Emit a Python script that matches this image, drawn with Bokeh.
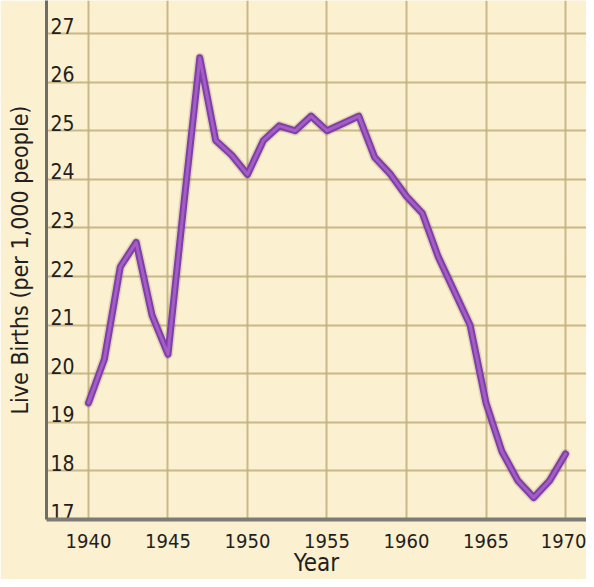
from bokeh.plotting import figure
from bokeh.models import FixedTicker, Range1d
from bokeh.core.properties import value
from bokeh.embed import file_html
from bokeh.resources import INLINE

years = list(range(1940, 1971))
births = [19.4, 20.3, 22.2, 22.7, 21.2, 20.4, 23.5, 26.5, 24.8, 24.5,
          24.1, 24.8, 25.1, 25.0, 25.3, 25.0, 25.15, 25.3, 24.45, 24.1,
          23.65, 23.3, 22.4, 21.7, 21.0, 19.4, 18.4, 17.8, 17.45, 17.8, 18.35]
x_ticks = [1940, 1945, 1950, 1955, 1960, 1965, 1970]
y_ticks = [17, 18, 19, 20, 21, 22, 23, 24, 25, 26, 27]
y_tick_labels = [str(v) for v in y_ticks]

FONT = "'DejaVu Sans Condensed', 'Roboto', sans-serif"
BG = "#fbf0cf"

x0, x1 = 1937.36, 1971.32
y0, y1 = 17.0, 27.68

p = figure(width=586, height=579, output_backend="svg", toolbar_location=None,
           x_range=Range1d(x0, x1), y_range=Range1d(y0, y1),
           min_border_left=46, min_border_right=0, min_border_top=0,
           min_border_bottom=60)
p.background_fill_color = BG
p.border_fill_color = BG
p.outline_line_color = None

# grid
p.xgrid.ticker = FixedTicker(ticks=x_ticks)
p.ygrid.ticker = FixedTicker(ticks=y_ticks)
for g in (p.xgrid, p.ygrid):
    g.grid_line_color = "#c0ae7c"
    g.grid_line_width = 2
    g.grid_line_alpha = 0.85

# x axis
p.xaxis.ticker = FixedTicker(ticks=x_ticks)
p.xaxis.major_tick_line_color = None
p.xaxis.major_tick_out = 0
p.xaxis.major_tick_in = 0
p.xaxis.minor_tick_line_color = None
p.xaxis.axis_line_color = "#7d7b76"
p.xaxis.axis_line_width = 4
p.xaxis.major_label_text_font = FONT
p.xaxis.major_label_text_font_size = "20px"
p.xaxis.major_label_text_color = "#231f20"
p.xaxis.major_label_standoff = 14
p.xaxis.axis_label = "Year"
p.xaxis.axis_label_text_font = FONT
p.xaxis.axis_label_text_font_size = "24px"
p.xaxis.axis_label_text_font_style = "normal"
p.xaxis.axis_label_text_color = "#231f20"
p.xaxis.axis_label_standoff = -2

# y axis (labels drawn inside the frame)
p.yaxis.ticker = FixedTicker(ticks=[])
p.yaxis.major_tick_line_color = None
p.yaxis.major_tick_out = 0
p.yaxis.minor_tick_line_color = None
p.yaxis.axis_line_color = "#6f6d69"
p.yaxis.axis_line_width = 3
p.yaxis.axis_label = "Live Births (per 1,000 people)"
p.yaxis.axis_label_text_font = FONT
p.yaxis.axis_label_text_font_size = "23px"
p.yaxis.axis_label_text_font_style = "normal"
p.yaxis.axis_label_text_color = "#231f20"
p.yaxis.axis_label_standoff = 14

p.text(x=[x0] * len(y_ticks), y=y_ticks, text=y_tick_labels,
       x_offset=4, y_offset=0, text_align="left", text_baseline="bottom",
       text_font=value(FONT), text_font_size="21px", text_color="#231f20")

# data line with soft shadow and highlight
p.line(years, births, line_color="#6b5a48", line_width=10, line_alpha=0.18,
       line_join="round", line_cap="round")
p.line(years, births, line_color="#7e3fa6", line_width=7,
       line_join="round", line_cap="round")
p.line(years, births, line_color="#a45cc6", line_width=3,
       line_join="round", line_cap="round")

open("out.html", "w").write(file_html(p, INLINE))
